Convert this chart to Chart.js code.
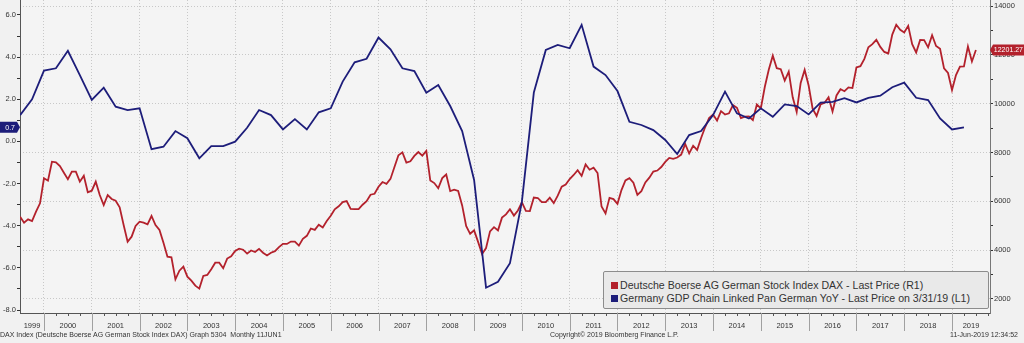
<!DOCTYPE html>
<html>
<head>
<meta charset="utf-8">
<script src="https://cdn.jsdelivr.net/npm/chart.js@4.4.1/dist/chart.umd.min.js"></script>
<style>
  html, body { margin: 0; padding: 0; background: #f1f1f1; }
  #wrap { position: relative; width: 1024px; height: 343px; overflow: hidden; font-family: "Liberation Sans", Arial, sans-serif; }
  #chart { position: absolute; left: 0; top: 0; }
  .legend {
    position: absolute; left: 603px; top: 271px; width: 386px; height: 38px;
    box-sizing: border-box; border: 1px solid #8c8c8c; border-radius: 2px; background: #e9e9e9;
    font-size: 10.6px; color: #333; padding: 7px 0 0 7px; line-height: 13px; white-space: nowrap;
  }
  .legend i { display: inline-block; width: 7px; height: 7px; margin-right: 2px; }
  .foot { position: absolute; top: 331px; font-size: 7px; color: #333; white-space: nowrap; }
</style>
</head>
<body>
<div id="wrap">
  <canvas id="chart" width="1024" height="343"></canvas>
  <div class="legend">
    <div><i style="background:#b3212c"></i>Deutsche Boerse AG German Stock Index DAX - Last Price (R1)</div>
    <div><i style="background:#1d1d7a"></i>Germany GDP Chain Linked Pan German YoY - Last Price on 3/31/19 (L1)</div>
  </div>
  <div class="foot" style="left:0">DAX Index (Deutsche Boerse AG German Stock Index DAX) Graph 5304&nbsp; Monthly 11JUN1</div>
  <div class="foot" style="left:550px">Copyright© 2019 Bloomberg Finance L.P.</div>
  <div class="foot" style="right:6px">11-Jun-2019 12:34:52</div>
</div>
<script>
const RED = "#b3212c";
const BLUE = "#1d1d7a";

// x axis runs in decimal years
const X_MIN = 1999.498;
const X_MAX = 2019.795;
const YEARS = [1999, 2000, 2001, 2002, 2003, 2004, 2005, 2006, 2007, 2008, 2009,
  2010, 2011, 2012, 2013, 2014, 2015, 2016, 2017, 2018, 2019];

const LEFT_TICKS = [-8, -7, -6, -5, -4, -3, -2, -1, 0, 1, 2, 3, 4, 5, 6];
const RIGHT_TICKS = [2000, 3000, 4000, 5000, 6000, 7000, 8000, 9000, 10000, 11000, 12000, 13000, 14000];

// DAX month-end closes, Jun 1999 .. Jun 2019 (right axis)
const DAX_FIRST = 1999.5;
const daxValues = [
  5370, 5124, 5263, 5194, 5575, 5919, 6943,
  6845, 7622, 7598, 7446, 7172, 6902, 7213, 7213, 6804, 7049, 6369, 6435,
  6804, 6258, 5849, 6258, 6095, 6025, 5755, 5030, 4346, 4551, 4989, 5165,
  5124, 5058, 5398, 5030, 4825, 4305, 3731, 3707, 2806, 3158, 3322, 2912,
  2748, 2547, 2424, 2942, 2982, 3221, 3487, 3485, 3257, 3655, 3746, 3965,
  4059, 4018, 3857, 3985, 3921, 4053, 3895, 3785, 3893, 3960, 4126, 4256,
  4254, 4350, 4349, 4185, 4461, 4587, 4887, 4830, 5044, 4929, 5193, 5408,
  5674, 5796, 5970, 6009, 5693, 5683, 5682, 5860, 6004, 6269, 6309, 6597,
  6789, 6716, 6917, 7409, 7884, 8007, 7584, 7638, 7862, 8020, 7871, 8067,
  6852, 6748, 6535, 6949, 7097, 6418, 6480, 6422, 5831, 4988, 4669, 4810,
  4338, 3844, 4085, 4769, 4941, 4809, 5332, 5465, 5675, 5415, 5625, 5957,
  5608, 5598, 6154, 6136, 5965, 5966, 6148, 5925, 6229, 6601, 6688, 6914,
  7078, 7273, 7041, 7514, 7294, 7376, 7159, 5785, 5502, 6141, 6089, 5898,
  6459, 6856, 6947, 6761, 6264, 6416, 6772, 6970, 7216, 7260, 7405, 7612,
  7776, 7742, 7795, 7914, 8349, 7959, 8276, 8104, 8594, 9033, 9406, 9552,
  9306, 9692, 9556, 9603, 9943, 9833, 9407, 9470, 9474, 9327, 9963, 9806,
  10694, 11402, 11966, 11454, 11414, 10945, 11309, 10259, 9660, 10850, 11382, 10743,
  9798, 9495, 9966, 10039, 10263, 9680, 10337, 10593, 10511, 10665, 10640, 11481,
  11535, 11834, 12313, 12438, 12615, 12325, 12118, 12056, 12829, 13230, 13024, 12918,
  13189, 12436, 12097, 12612, 12605, 12306, 12806, 12364, 12247, 11448, 11257, 10559,
  11173, 11516, 11526, 12344, 11727, 12201.27,
];

// GDP YoY %, quarter ends Q2 1999 .. Q1 2019 (left axis)
const GDP_FIRST = 1999.5;
const gdpValues = [
  1.25, 2.0, 3.36,
  3.47, 4.3, 3.15, 1.97,
  2.55, 1.65, 1.49, 1.57,
  -0.37, -0.25, 0.49, 0.15,
  -0.8, -0.22, -0.22, -0.01,
  0.65, 1.49, 1.25, 0.57,
  1.06, 0.57, 1.38, 1.57,
  2.84, 3.75, 3.92, 4.93,
  4.37, 3.47, 3.34, 2.31,
  2.68, 1.68, 0.49, -1.83,
  -6.94, -6.66, -5.78, -2.86,
  2.32, 4.34, 4.58, 4.42,
  5.53, 3.55, 3.15, 2.39,
  0.93, 0.78, 0.54, 0.07,
  -0.6, 0.3, 0.49, 1.25,
  2.36, 1.33, 1.09, 1.57,
  1.17, 1.76, 1.68, 1.28,
  1.84, 1.88, 2.05, 1.85,
  2.07, 2.17, 2.57, 2.79,
  2.07, 1.96, 1.09, 0.57,
  0.67,
];

function yearTicks() {
  const ticks = [];
  YEARS.forEach((year) => {
    if (year > X_MIN) ticks.push({ value: year });
    const start = Math.max(year, X_MIN);
    const end = Math.min(year + 1, X_MAX);
    ticks.push({ value: (start + end) / 2 });
  });
  return ticks.sort((a, b) => a.value - b.value);
}

function noPadding(scale) {
  scale.paddingTop = 0;
  scale.paddingBottom = 0;
  scale.paddingLeft = 0;
  scale.paddingRight = 0;
}

function drawBadge(ctx, left, right, tipX, y, color, text, textX, align) {
  const h = 11;
  ctx.save();
  ctx.fillStyle = color;
  ctx.beginPath();
  if (tipX > right) {
    ctx.moveTo(left, y - h / 2);
    ctx.lineTo(right, y - h / 2);
    ctx.lineTo(tipX, y);
    ctx.lineTo(right, y + h / 2);
    ctx.lineTo(left, y + h / 2);
  } else {
    ctx.moveTo(right, y - h / 2);
    ctx.lineTo(left, y - h / 2);
    ctx.lineTo(tipX, y);
    ctx.lineTo(left, y + h / 2);
    ctx.lineTo(right, y + h / 2);
  }
  ctx.closePath();
  ctx.fill();
  ctx.fillStyle = "#ffffff";
  ctx.font = '7px "Liberation Sans", Arial, sans-serif';
  ctx.textAlign = align;
  ctx.textBaseline = "middle";
  ctx.fillText(text, textX, y + 0.5);
  ctx.restore();
}

const decorations = {
  id: "decorations",
  beforeDraw(chart) {
    const { ctx, chartArea: a } = chart;
    ctx.save();
    ctx.fillStyle = "#f4f4f4";
    ctx.fillRect(a.left, a.top, a.right - a.left, a.bottom - a.top);
    ctx.restore();
  },
  afterDraw(chart) {
    const { ctx, chartArea: a } = chart;
    const xs = chart.scales.x;
    ctx.save();
    ctx.lineWidth = 1;
    // year separators below the axis and small quarter ticks
    for (let q = 2000; q <= X_MAX; q += 0.25) {
      const px = Math.round(xs.getPixelForValue(q)) + 0.5;
      ctx.strokeStyle = Number.isInteger(q) ? "#a0a0a0" : "#555555";
      ctx.beginPath();
      ctx.moveTo(px, a.bottom);
      ctx.lineTo(px, a.bottom + (Number.isInteger(q) ? 18 : 3));
      ctx.stroke();
    }
    ctx.restore();

    const lastGdp = gdpValues[gdpValues.length - 1];
    const lastDax = daxValues[daxValues.length - 1];
    drawBadge(ctx, 0, 17, a.left, chart.scales.y.getPixelForValue(lastGdp), BLUE,
      lastGdp.toFixed(1), 15, "right");
    drawBadge(ctx, a.right + 3, 1024, a.right, chart.scales.y1.getPixelForValue(lastDax), RED,
      lastDax.toFixed(2), 1023, "right");
  },
};

const tickFont = { family: '"Liberation Sans", Arial, sans-serif', size: 7.5 };

new Chart(document.getElementById("chart"), {
  type: "line",
  data: {
    datasets: [
      {
        label: "Germany GDP Chain Linked Pan German YoY",
        data: gdpValues.map((v, i) => ({ x: GDP_FIRST + i / 4, y: v })),
        yAxisID: "y",
        borderColor: BLUE,
        borderWidth: 1.8,
        pointRadius: 0,
        tension: 0,
      },
      {
        label: "Deutsche Boerse AG German Stock Index DAX",
        data: daxValues.map((v, i) => ({ x: DAX_FIRST + i / 12, y: v })),
        yAxisID: "y1",
        borderColor: RED,
        borderWidth: 1.8,
        pointRadius: 0,
        tension: 0,
      },
    ],
  },
  options: {
    responsive: false,
    animation: false,
    layout: { padding: 0 },
    plugins: { legend: { display: false }, tooltip: { enabled: false } },
    scales: {
      x: {
        type: "linear",
        min: X_MIN,
        max: X_MAX,
        afterBuildTicks: (scale) => { scale.ticks = yearTicks(); },
        afterFit: (scale) => { scale.height = 30; noPadding(scale); },
        ticks: {
          autoSkip: false,
          maxRotation: 0,
          padding: 8,
          color: "#333",
          font: tickFont,
          callback: (value) => (Number.isInteger(value) ? "" : String(Math.floor(value))),
        },
        grid: {
          drawTicks: false,
          color: (ctx) => (ctx.tick && Number.isInteger(ctx.tick.value) ? "#c8c8c8" : "rgba(0,0,0,0)"),
        },
        border: { color: "#555", width: 1, dash: [1, 2] },
      },
      y: {
        position: "left",
        min: -8.14,
        max: 6.71,
        afterBuildTicks: (scale) => { scale.ticks = LEFT_TICKS.map((v) => ({ value: v })); },
        afterFit: (scale) => { scale.width = 20; noPadding(scale); },
        ticks: {
          padding: 1,
          color: "#333",
          font: tickFont,
          callback: (value) => (value % 2 === 0 ? value.toFixed(1) : ""),
        },
        grid: { drawOnChartArea: false, tickLength: 3, tickColor: "#333" },
        border: { color: "#555", width: 1 },
      },
      y1: {
        position: "right",
        min: 1425,
        max: 14246,
        afterBuildTicks: (scale) => { scale.ticks = RIGHT_TICKS.map((v) => ({ value: v })); },
        afterFit: (scale) => { scale.width = 34; noPadding(scale); },
        ticks: {
          padding: 1,
          color: "#333",
          font: tickFont,
          callback: (value) => (value % 2000 === 0 ? String(value) : ""),
        },
        grid: {
          tickLength: 3,
          tickColor: "#333",
          color: (ctx) => (ctx.tick && ctx.tick.value % 2000 === 0 ? "#c8c8c8" : "rgba(0,0,0,0)"),
        },
        border: { color: "#777", width: 1, dash: [1, 2] },
      },
    },
  },
  plugins: [decorations],
});
</script>
</body>
</html>
